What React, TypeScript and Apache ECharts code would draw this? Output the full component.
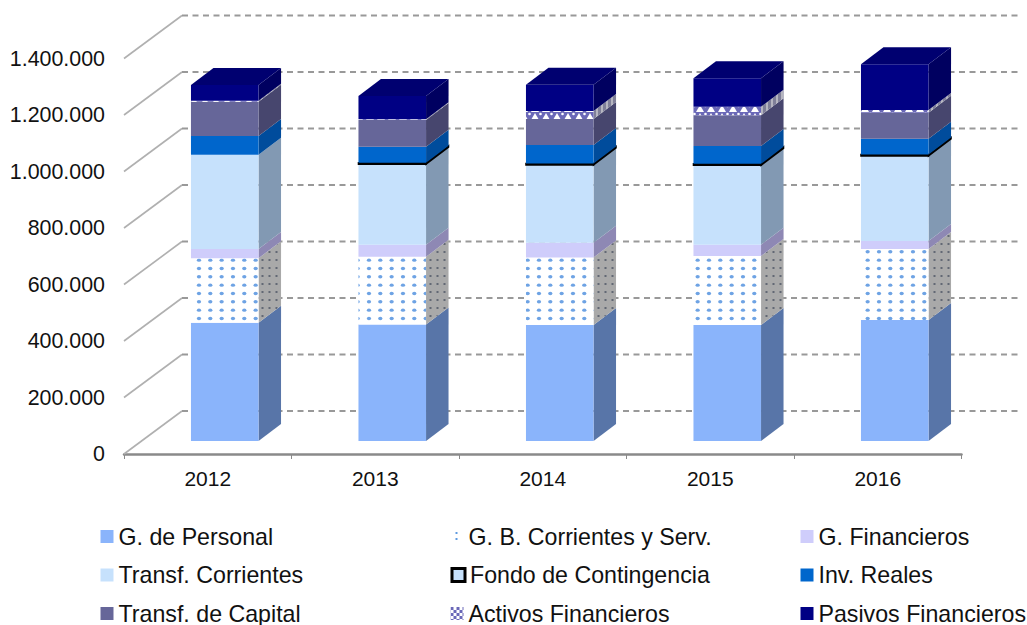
import React, { useEffect, useRef } from "react";
import * as echarts from "echarts";

const years = ["2012", "2013", "2014", "2015", "2016"];
const personal = [419000, 412000, 411000, 411000, 428000];
const bienes = [228000, 240000, 239000, 244000, 252000];
const financieros = [33000, 43000, 52000, 40000, 28000];
const corrientes = [333000, 285000, 275000, 281000, 301000];
const fondo = [0, 5000, 5000, 5000, 5000];
const reales = [67000, 57000, 66000, 63000, 56000];
const capital = [121000, 94000, 92000, 109000, 92000];
const activos = [3000, 3000, 28000, 30000, 10000];
const pasivos = [56000, 82000, 93000, 101000, 162000];
const yTicks = [0, 200000, 400000, 600000, 800000, 1000000, 1200000, 1400000];

const FONT = "'Liberation Sans', Arial, sans-serif";

// Plane offsets of the fake 3D box, in pixels
const BAR_OFF_X = 17;
const BAR_OFF_Y = -13;
const DEPTH_X = 22.5;
const DEPTH_Y = -17;
const WALL_X = 58;
const WALL_Y = -43;
const BAR_RATIO = 0.4034;

function tile(w: number, h: number, draw: (c: CanvasRenderingContext2D) => void) {
  const cv = document.createElement("canvas");
  cv.width = w;
  cv.height = h;
  draw(cv.getContext("2d") as CanvasRenderingContext2D);
  return { image: cv, repeat: "repeat" as const, imageWidth: w, imageHeight: h };
}

function dots(bg: string, dot: string, w: number, h: number, nx: number, ny: number, ox: number, oy: number, r: number) {
  return tile(w, h, (c) => {
    c.fillStyle = bg;
    c.fillRect(0, 0, w, h);
    c.fillStyle = dot;
    for (let i = 0; i < nx; i++) {
      for (let j = 0; j < ny; j++) {
        c.beginPath();
        c.ellipse(ox + (i * w) / nx, oy + (j * h) / ny, r * 1.25, r, 0, 0, Math.PI * 2);
        c.fill();
      }
    }
  });
}

function triangles(bg: string) {
  return tile(11, 8, (c) => {
    c.fillStyle = bg;
    c.fillRect(0, 0, 11, 8);
    c.fillStyle = "#ffffff";
    c.beginPath();
    c.arc(1.5, 2, 1.3, 0, Math.PI * 2);
    c.fill();
    c.beginPath();
    c.moveTo(7, 1);
    c.lineTo(11, 8);
    c.lineTo(3, 8);
    c.closePath();
    c.fill();
  });
}

function lattice() {
  return tile(6, 6, (c) => {
    c.fillStyle = "#ffffff";
    c.fillRect(0, 0, 6, 6);
    c.fillStyle = "#6a68b8";
    c.fillRect(0, 0, 3, 3);
    c.fillRect(3, 3, 3, 3);
  });
}

type Spec = { name: string; values: number[]; front: any; side: any; anchored?: boolean; outline?: boolean };

function buildSeries(specs: Spec[]) {
  const cum = years.map(() => 0);
  return specs.map((s, si) => {
    const data = s.values.map((v, i) => {
      const row = [i, v, cum[i]];
      cum[i] += v;
      return row;
    });
    const isTop = si === specs.length - 1;
    return {
      type: "custom",
      name: s.name,
      coordinateSystem: "cartesian2d",
      clip: false,
      silent: true,
      z: 5 + si,
      encode: { x: 0, y: 1 },
      itemStyle: { color: s.anchored ? "#6a68b8" : s.front },
      data,
      renderItem: (_p: any, api: any) => {
        const idx = api.value(0);
        const val = api.value(1);
        const base = api.value(2);
        if (!val) return null;
        const a = api.coord([idx, base]);
        const b = api.coord([idx, base + val]);
        const w = api.size([1, 0])[0] * BAR_RATIO;
        const x0 = a[0] + BAR_OFF_X - w / 2;
        const x1 = x0 + w;
        const yb = a[1] + BAR_OFF_Y;
        const yt = b[1] + BAR_OFF_Y;
        const border = s.outline ? { stroke: "#000", lineWidth: 1.5 } : {};
        const fill = s.anchored ? { ...s.front, x: x0, y: yb } : s.front;
        const children: any[] = [
          {
            type: "polygon",
            shape: { points: [[x1, yb], [x1 + DEPTH_X, yb + DEPTH_Y], [x1 + DEPTH_X, yt + DEPTH_Y], [x1, yt]] },
            style: { fill: s.side, ...border },
          },
          {
            type: "polygon",
            shape: { points: [[x0, yb], [x1, yb], [x1, yt], [x0, yt]] },
            style: { fill, ...border },
          },
        ];
        if (isTop) {
          children.push({
            type: "polygon",
            shape: { points: [[x0, yt], [x1, yt], [x1 + DEPTH_X, yt + DEPTH_Y], [x0 + DEPTH_X, yt + DEPTH_Y]] },
            style: { fill: "#000070" },
          });
        }
        return { type: "group", children };
      },
    };
  });
}

export default function App() {
  const ref = useRef<HTMLDivElement>(null);
  useEffect(() => {
    const chart = echarts.init(ref.current as HTMLDivElement, undefined, { renderer: "svg" });
    const dotFront = dots("#ffffff", "#6ea3e4", 34, 25, 3, 3, 6.3, 1.8, 1.7);
    const dotSide = dots("#a9a9a9", "#5d6470", 7, 8, 1, 1, 3.5, 4, 1);
    const actFront = triangles("#6a68b8");
    const actSide = tile(5, 5, (c) => {
      c.fillStyle = "#7f7f98";
      c.fillRect(0, 0, 5, 5);
      c.fillStyle = "#b5b5c0";
      c.fillRect(1, 0, 2, 5);
    });
    const specs: Spec[] = [
      { name: "G. de Personal", values: personal, front: "#8ab4fb", side: "#5875a8" },
      { name: "G. B. Corrientes y Serv.", values: bienes, front: dotFront, side: dotSide },
      { name: "G. Financieros", values: financieros, front: "#cfcdfb", side: "#8e88b4" },
      { name: "Transf. Corrientes", values: corrientes, front: "#c6e1fc", side: "#8299b3" },
      { name: "Fondo de Contingencia", values: fondo, front: "#000000", side: "#000000", outline: true },
      { name: "Inv. Reales", values: reales, front: "#0066cc", side: "#004c9c" },
      { name: "Transf. de Capital", values: capital, front: "#666699", side: "#47466e" },
      { name: "Activos Financieros", values: activos, front: actFront, side: actSide, anchored: true },
      { name: "Pasivos Financieros", values: pasivos, front: "#000084", side: "#000060" },
    ];
    const legendIcon: Record<string, any> = {
      "G. B. Corrientes y Serv.": {
        color: tile(13, 13, (c) => {
          c.fillStyle = "#ffffff";
          c.fillRect(0, 0, 13, 13);
          c.fillStyle = "#5f9be0";
          c.fillRect(5, 2, 2, 2);
          c.fillRect(5, 8, 2, 2);
        }),
      },
      "Fondo de Contingencia": { color: "#c6e1fc", borderColor: "#000000", borderWidth: 3 },
      "Activos Financieros": { color: lattice() },
    };
    const colLeft = [100.5, 450.5, 800.5];
    const rowTop = [525, 563.5, 602];
    const legends = specs.map((s, i) => {
      const ic = legendIcon[s.name];
      return {
        show: true,
        orient: "horizontal" as const,
        left: colLeft[i % 3],
        top: rowTop[Math.floor(i / 3)],
        padding: 0,
        itemWidth: 13,
        itemHeight: 13,
        selectedMode: false,
        textStyle: { fontFamily: FONT, fontSize: 23.2, color: "#111" },
        data: [ic ? { name: s.name, icon: "rect", itemStyle: ic } : { name: s.name, icon: "rect" }],
      };
    });
    const option: any = {
      animation: false,
      backgroundColor: "#ffffff",
      legend: legends,
      grid: { left: 124, right: 65.5, top: 58.5, bottom: 171, containLabel: false },
      xAxis: {
        type: "category",
        data: years,
        axisLine: { show: true, lineStyle: { color: "#8a8a8a", width: 2.5 } },
        axisTick: { show: true, length: 5, lineStyle: { color: "#8a8a8a", width: 1 } },
        axisLabel: { color: "#111", fontFamily: FONT, fontSize: 21, margin: 14 },
      },
      yAxis: {
        type: "value",
        min: 0,
        max: 1400000,
        interval: 200000,
        axisLine: { show: false },
        axisTick: { show: false },
        splitLine: { show: false },
        axisLabel: {
          color: "#111",
          fontFamily: FONT,
          fontSize: 21.4,
          margin: 19,
          padding: [2, 0, 0, 0],
          formatter: (v: number) => String(v).replace(/\B(?=(\d{3})+(?!\d))/g, "."),
        },
      },
      series: [
        {
          type: "custom",
          name: "wall",
          coordinateSystem: "cartesian2d",
          clip: false,
          silent: true,
          z: 1,
          encode: { y: 1 },
          data: yTicks.map((t) => [0, t]),
          renderItem: (p: any, api: any) => {
            const c = api.coord([0, api.value(1)]);
            const left = p.coordSys.x;
            const right = p.coordSys.x + p.coordSys.width;
            const y = c[1];
            return {
              type: "group",
              children: [
                {
                  type: "line",
                  shape: { x1: left, y1: y, x2: left + WALL_X, y2: y + WALL_Y },
                  style: { stroke: "#b0b0b0", lineWidth: 1.6 },
                },
                {
                  type: "line",
                  shape: { x1: left + WALL_X, y1: y + WALL_Y, x2: right + WALL_X, y2: y + WALL_Y },
                  style: { stroke: "#999999", lineWidth: 1.8, lineDash: [6, 4.5] },
                },
              ],
            };
          },
        },
        ...buildSeries(specs),
      ],
    };
    chart.setOption(option);
    return () => chart.dispose();
  }, []);
  return <div ref={ref} style={{ position: "fixed", left: 0, top: 0, width: 1027, height: 625 }} />;
}
